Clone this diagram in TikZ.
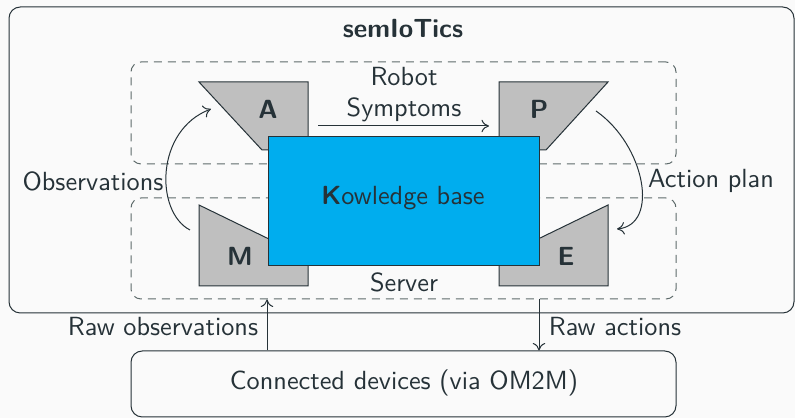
\documentclass[tikz,border=0pt]{standalone}
\usetikzlibrary{arrows.meta,fit}
\definecolor{ink}{HTML}{263238}
\definecolor{paper}{HTML}{FAFAFA}
\definecolor{kbblue}{HTML}{00ADEE}
\definecolor{shade}{HTML}{BFBFBF}
\definecolor{dashgray}{HTML}{5E6B6B}
\begin{document}
\begin{tikzpicture}[x=0.4pt,y=-0.4pt,font=\fontsize{10.5}{12.6}\selectfont\sffamily,
  txt/.style={text=ink,inner sep=0pt},
  frame/.style={draw=ink,rounded corners=4.5pt,inner sep=0pt},
  zone/.style={draw=dashgray,dashed,dash pattern=on 3.2pt off 2.4pt,rounded corners=4pt,inner sep=0pt},
  stage/.style={draw=ink,fill=shade},
  flow/.style={draw=ink,-{To[length=3pt,width=5pt]}},
  letter/.style={text=ink,font=\fontsize{10.5}{12.6}\selectfont\sffamily\bfseries,inner sep=0pt}]
\fill[paper] (0,0) rectangle (795,418);
\useasboundingbox (0,0) rectangle (795,418);

% outer platform frame
\coordinate (o1) at (9,7); \coordinate (o2) at (794,313);
\node[frame,fit=(o1)(o2)] (platform) {};
\node[txt,font=\fontsize{10.5}{12.6}\selectfont\sffamily\bfseries] (title) at (403,29) {semIoTics};

% robot and server zones
\coordinate (r1) at (131,62); \coordinate (r2) at (676,164);
\node[zone,fit=(r1)(r2)] (robot) {};
\coordinate (s1) at (131,198); \coordinate (s2) at (676,299);
\node[zone,fit=(s1)(s2)] (server) {};

% MAPE stages
\draw[stage] (199,82) -- (308,82) -- (308,150) -- (262,150) -- cycle;
\draw[stage] (499,82) -- (608,82) -- (546,150) -- (499,150) -- cycle;
\draw[stage] (199,205) -- (308,258) -- (308,286) -- (199,286) -- cycle;
\draw[stage] (608,205) -- (608,286) -- (499,286) -- (499,258) -- cycle;
\node[letter] (A) at (268,109) {A};
\node[letter] (P) at (539,109) {P};
\node[letter] (M) at (240,256) {M};
\node[letter] (E) at (566,256) {E};

% knowledge base
\coordinate (k1) at (268,137); \coordinate (k2) at (539,266);
\node[draw=ink,fill=kbblue,inner sep=0pt,fit=(k1)(k2)] (kb) {};
\node[txt] (kbtext) at (403,198) {\textbf{K}owledge base};

% zone labels
\node[txt] (robotlbl) at (404,77) {Robot};
\node[txt] (symlbl) at (404,110) {Symptoms};
\node[txt] (serverlbl) at (404,282) {Server};

% symptoms flow from A to P
\coordinate (symA) at (318,126);
\coordinate (symP) at (489,126);
\draw[flow] (symA) -- (symP);

% observations loop M -> A
\coordinate (obsM) at (190,230);
\coordinate (obsA) at (211,109);
\draw[flow] (obsM) .. controls (155,212) and (155,130) .. (obsA);
\node[txt] (obslbl) at (93,181) {Observations};

% action plan loop P -> E
\coordinate (actP) at (596,111);
\coordinate (actE) at (617,229);
\draw[flow] (actP) .. controls (645,145) and (660,225) .. (actE);
\node[txt] (actlbl) at (711,181) {Action plan};

% connected devices
\coordinate (d1) at (131,351); \coordinate (d2) at (676,417);
\node[frame,fit=(d1)(d2)] (devices) {};
\node[txt] (devtext) at (404,383) {Connected devices (via OM2M)};

% raw data exchange
\draw[flow] (devices.north -| 267,0) -- (server.south -| 267,0);
\draw[flow] (server.south -| 539,0) -- (devices.north -| 539,0);
\node[txt] (rawobs) at (163,327) {Raw observations};
\node[txt] (rawact) at (615,327) {Raw actions};
\end{tikzpicture}
\end{document}
